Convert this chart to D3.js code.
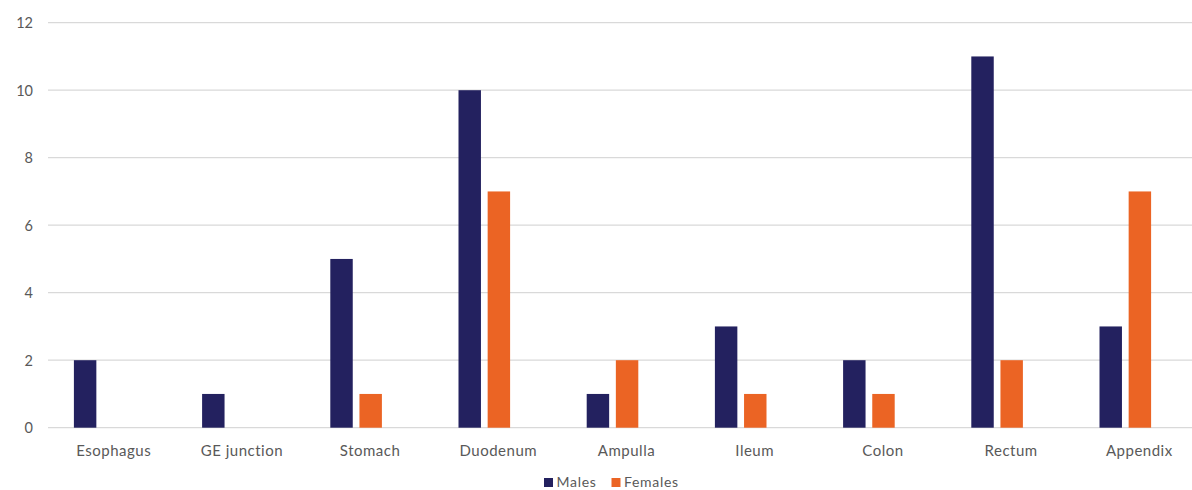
<!DOCTYPE html>
<html>
<head>
<meta charset="utf-8">
<script src="https://cdn.jsdelivr.net/npm/d3@7"></script>
<style>
  html, body { margin: 0; padding: 0; background: #fff; }
  svg { display: block; }
  text { font-family: "Lato", "Liberation Sans", sans-serif; fill: #595959; }
</style>
</head>
<body>
<svg id="chart" width="1192" height="490"></svg>
<script>
// Tumour counts by site and sex
const categories = ["Esophagus", "GE junction", "Stomach", "Duodenum", "Ampulla", "Ileum", "Colon", "Rectum", "Appendix"];
const seriesNames = ["Males", "Females"];
const males   = [2, 1, 5, 10, 1, 3, 2, 11, 3];
const females = [0, 0, 1, 7, 2, 1, 1, 2, 7];
const yTicks  = [0, 2, 4, 6, 8, 10, 12];
const colors  = ["#23215f", "#eb6424"];

const svg = d3.select("#chart");

const x0 = d3.scaleBand().domain(categories).range([35.6, 1189.4]);
const x1 = d3.scaleBand().domain(seriesNames).range([-25.8, 25.8]).paddingInner(0.23);
const y  = d3.scaleLinear().domain([0, 12]).range([427.7, 22.7]);

// value axis labels
const yAxis = d3.axisLeft(y).tickValues(yTicks).tickSize(0).tickPadding(0);
const gy = svg.append("g").attr("transform", "translate(33,0)").call(yAxis);
gy.select(".domain").remove();
gy.selectAll("text").style("font-size", "14.5px").attr("fill", "#595959").attr("dy", "0.35em");

// horizontal gridlines
svg.append("g").selectAll("line").data(yTicks).join("line")
  .attr("x1", 48).attr("x2", 1192)
  .attr("y1", d => y(d)).attr("y2", d => y(d))
  .attr("stroke", "#d9d9d9").attr("stroke-width", 1.3);

// bars
const rows = categories.map((c, i) => ({ cat: c, vals: [males[i], females[i]] }));
const groups = svg.append("g").selectAll("g").data(rows).join("g")
  .attr("transform", d => `translate(${x0(d.cat) + x0.bandwidth() / 2},0)`);
groups.selectAll("rect")
  .data(d => d.vals.map((v, k) => ({ s: seriesNames[k], v, k })).filter(e => e.v > 0))
  .join("rect")
  .attr("x", e => x1(e.s))
  .attr("width", x1.bandwidth())
  .attr("y", e => y(e.v))
  .attr("height", e => y(0) - y(e.v))
  .attr("fill", e => colors[e.k]);

// category labels
const xAxis = d3.axisBottom(x0).tickSize(0).tickPadding(0);
const gx = svg.append("g").attr("transform", "translate(14,451)").call(xAxis);
gx.select(".domain").remove();
gx.selectAll("text").style("font-size", "15px").style("letter-spacing", "0.5px")
  .attr("fill", "#595959").attr("dy", "0.35em");

// legend
const legend = svg.append("g").attr("transform", "translate(544,482)");
const legendX = [0, 67.5];
seriesNames.forEach((name, k) => {
  const g = legend.append("g").attr("transform", `translate(${legendX[k]},0)`);
  g.append("rect").attr("x", 0).attr("y", -4).attr("width", 9).attr("height", 9).attr("fill", colors[k]);
  g.append("text").attr("x", 12.5).attr("y", 0).attr("dy", "0.33em")
    .style("font-size", "14px").style("letter-spacing", "0.7px").text(name);
});
</script>
</body>
</html>
